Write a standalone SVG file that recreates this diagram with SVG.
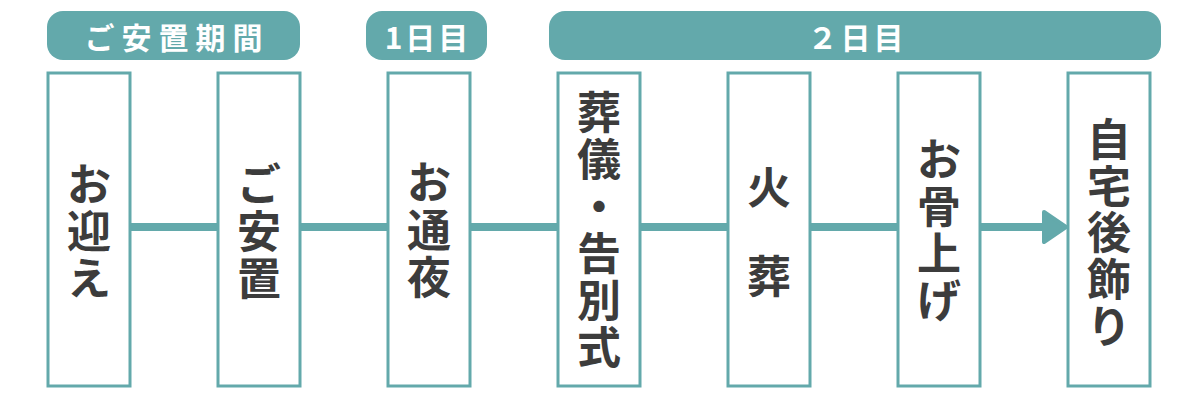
<svg xmlns="http://www.w3.org/2000/svg" width="1200" height="400" viewBox="0 0 1200 400">
<style>
.pill{fill:#63a9ab}
.ptxt{font-family:"Noto Sans CJK JP","Noto Sans",sans-serif;font-weight:bold;font-size:30px;fill:#ffffff;text-anchor:middle}
.box{fill:#ffffff;stroke:#63a9ab;stroke-width:3}
.vt{font-family:"Noto Sans CJK JP","Noto Sans",sans-serif;font-weight:bold;font-size:44px;fill:#3c3c3c;text-anchor:middle}
.conn{stroke:#63a9ab;stroke-width:8;fill:none}
.head{fill:#63a9ab;stroke:#63a9ab;stroke-width:4;stroke-linejoin:round}
</style>
<rect width="1200" height="400" fill="#ffffff"/>
<g id="headers">
<g id="h1"><rect class="pill" x="47" y="11" width="253" height="49" rx="16"/><text class="ptxt" x="177" y="49" letter-spacing="7">ご安置期間</text></g>
<g id="h2"><rect class="pill" x="366" y="11" width="121" height="49" rx="16"/><text class="ptxt" x="428" y="49" letter-spacing="3">1日目</text></g>
<g id="h3"><rect class="pill" x="549" y="11" width="612" height="49" rx="16"/><text class="ptxt" x="857" y="49" letter-spacing="3">２日目</text></g>
</g>
<g id="connectors">
<line class="conn" x1="130" y1="227" x2="1045" y2="227"/>
<polygon class="head" points="1044,212 1066,227 1044,242"/>
</g>
<g id="n1"><rect class="box" x="48" y="73" width="82" height="313"/>
<text class="vt"><tspan x="89" y="201">お</tspan><tspan x="89" y="248">迎</tspan><tspan x="89" y="295">え</tspan></text></g>
<g id="n2"><rect class="box" x="218" y="73" width="82" height="313"/>
<text class="vt"><tspan x="259" y="201">ご</tspan><tspan x="259" y="248">安</tspan><tspan x="259" y="295">置</tspan></text></g>
<g id="n3"><rect class="box" x="388" y="73" width="82" height="313"/>
<text class="vt"><tspan x="429" y="199">お</tspan><tspan x="429" y="247">通</tspan><tspan x="429" y="294">夜</tspan></text></g>
<g id="n4"><rect class="box" x="558" y="73" width="82" height="313"/>
<text class="vt"><tspan x="599" y="129">葬</tspan><tspan x="599" y="176">儀</tspan><tspan x="599" y="223">・</tspan><tspan x="599" y="270">告</tspan><tspan x="599" y="317">別</tspan><tspan x="599" y="364">式</tspan></text></g>
<g id="n5"><rect class="box" x="728" y="73" width="82" height="313"/>
<text class="vt"><tspan x="769" y="204">火</tspan><tspan x="769" y="293">葬</tspan></text></g>
<g id="n6"><rect class="box" x="898" y="73" width="82" height="313"/>
<text class="vt"><tspan x="939" y="176">お</tspan><tspan x="939" y="223">骨</tspan><tspan x="939" y="270">上</tspan><tspan x="939" y="317">げ</tspan></text></g>
<g id="n7"><rect class="box" x="1068" y="73" width="82" height="313"/>
<text class="vt"><tspan x="1109" y="156">自</tspan><tspan x="1109" y="203">宅</tspan><tspan x="1109" y="249">後</tspan><tspan x="1109" y="296">飾</tspan><tspan x="1109" y="343">り</tspan></text></g>
</svg>
